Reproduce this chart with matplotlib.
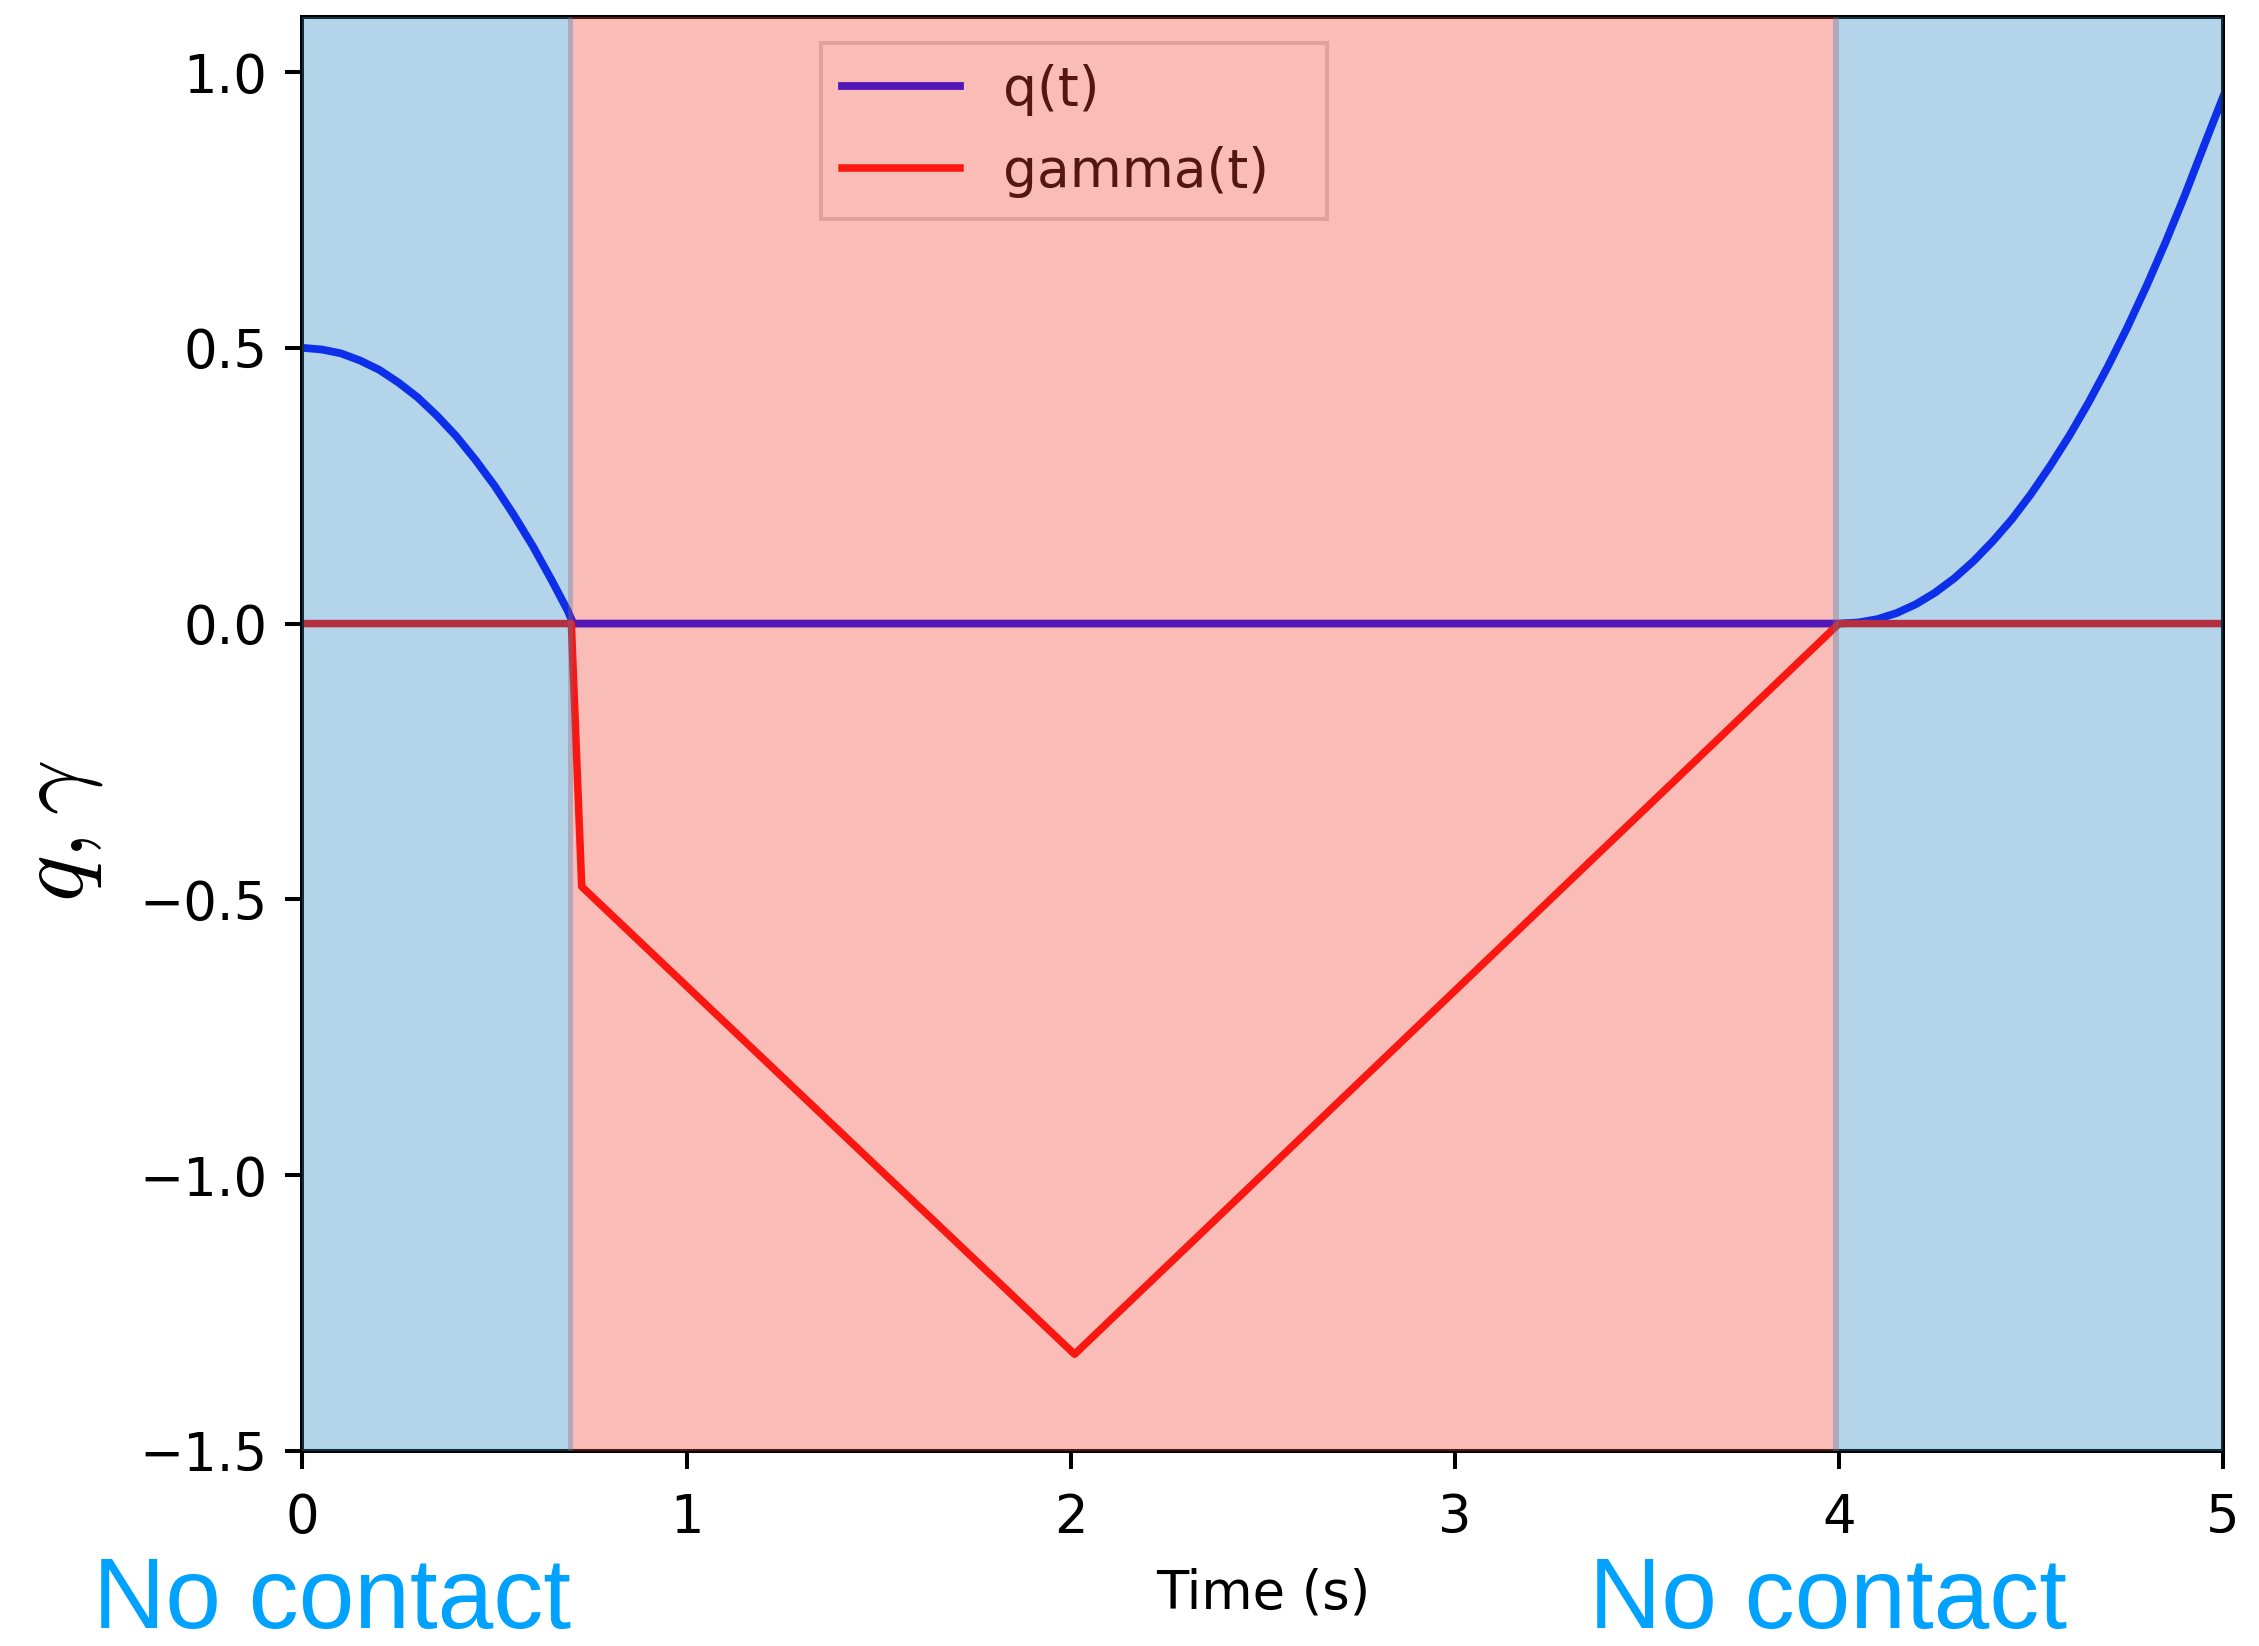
import matplotlib
matplotlib.use("Agg")
import matplotlib.pyplot as plt

plt.rcParams['mathtext.fontset'] = 'cm'

# q(t): falls from 0.5 to the ground, stays at 0 in contact, then rises again
t_q = [0.00, 0.05, 0.10, 0.15, 0.20, 0.25, 0.30, 0.35, 0.40, 0.45, 0.50, 0.55, 0.60, 0.65, 0.69, 0.705,
       4.00, 4.05, 4.10, 4.15, 4.20, 4.25, 4.30, 4.35, 4.40, 4.45, 4.50,
       4.55, 4.60, 4.65, 4.70, 4.75, 4.80, 4.85, 4.90, 4.95, 5.00]
q_vals = [0.500, 0.497, 0.490, 0.477, 0.460, 0.437, 0.410, 0.377, 0.340, 0.297, 0.250, 0.197, 0.140, 0.077, 0.024, 0.0,
          0.0, 0.002, 0.008, 0.019, 0.035, 0.056, 0.082, 0.113, 0.149, 0.189, 0.235,
          0.286, 0.341, 0.401, 0.466, 0.536, 0.611, 0.691, 0.776, 0.866, 0.955]

# gamma(t): zero outside contact, V shape during contact
t_gamma = [0.0, 0.70, 0.727, 2.01, 4.00, 5.00]
gamma_vals = [0.0, 0.0, -0.477, -1.325, 0.0, 0.0]

# contact / no-contact intervals (s)
contact = (0.69, 4.0)
no_contact = [(0.0, 0.703), (3.985, 5.0)]

xticks = [0, 1, 2, 3, 4, 5]
yticks = [-1.5, -1.0, -0.5, 0.0, 0.5, 1.0]

fig = plt.figure(figsize=(22.59, 16.46), dpi=100)
ax = fig.add_axes([0.1339, 0.1186, 0.8502, 0.8711])

ax.plot(t_q, q_vals, color='blue', lw=5.6, label='q(t)')
ax.plot(t_gamma, gamma_vals, color='red', lw=5.4, label='gamma(t)')

ax.set_xlim(0, 5)
ax.set_ylim(-1.5, 1.1)
ax.set_xticks(xticks)
ax.set_yticks(yticks)
ax.tick_params(labelsize=38, length=12.6, width=2.9, pad=12.6)
ax.tick_params(axis='x', pad=17)
for s in ax.spines.values():
    s.set_linewidth(2.9)
ax.set_xlabel('Time (s)', fontsize=38, labelpad=17)

leg = ax.legend(loc='upper left', bbox_to_anchor=(0.27, 0.5, 0.2635, 0.482), mode='expand',
                borderaxespad=0, fontsize=38.5, handlelength=2.2, labelspacing=0.55,
                fancybox=False)
leg.get_frame().set_linewidth(2.9)

# translucent shading over everything inside the axes
ax.axvspan(contact[0], contact[1], color='#f14031', alpha=0.35, lw=0, zorder=6)
for a, b in no_contact:
    ax.axvspan(a, b, color='#2987c0', alpha=0.35, lw=0, zorder=6)

fig.text(0.0257, 0.495, r'$q, \gamma$', fontsize=70, rotation=90, ha='center', va='center')

fig.text(93 / 2259, 0.011, 'No contact', fontsize=72, color='#00a2ff',
         family='Liberation Sans', ha='left', va='baseline')
fig.text(1589 / 2259, 0.011, 'No contact', fontsize=72, color='#00a2ff',
         family='Liberation Sans', ha='left', va='baseline')

fig.savefig('out.png', dpi=100)
